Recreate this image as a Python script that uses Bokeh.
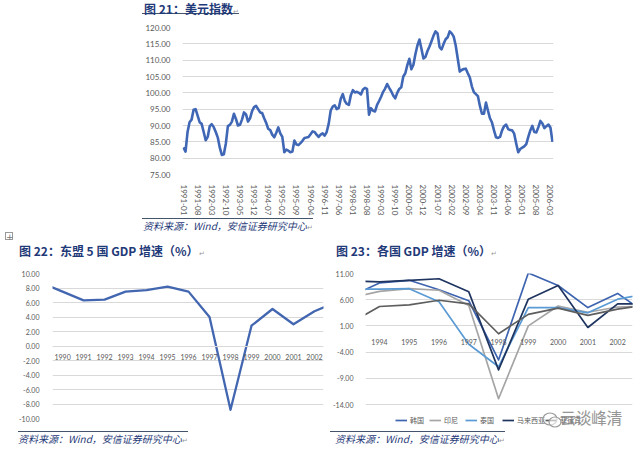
import pandas as pd
from bokeh.plotting import figure
from bokeh.models import (Range1d, FixedTicker, NumeralTickFormatter, Div, Spacer,
                          Legend, LegendItem)
from bokeh.layouts import column, row
from bokeh.embed import file_html
from bokeh.resources import INLINE

# ---------------- data ----------------
# Chart 21: US dollar index, monthly from 1991-01
dxy_start = "1991-01"
dxy = [
    83.3, 82.0, 88.0, 91.0, 91.8, 94.8, 95.0, 93.0, 91.0, 90.5, 88.0, 85.5,
    86.5, 89.8, 90.4, 89.5, 88.0, 86.3, 83.2, 81.0, 81.2, 84.5, 89.8, 90.2,
    91.2, 93.6, 92.0, 90.0, 90.2, 91.8, 94.0, 93.4, 91.2, 92.2, 94.4, 95.6,
    96.0, 95.0, 94.0, 93.8, 92.2, 90.8, 89.0, 88.6, 87.2, 86.4, 87.8, 89.4,
    87.6, 86.5, 81.8, 82.6, 82.3, 81.8, 82.0, 85.4, 84.2, 84.0, 84.6, 85.3,
    86.2, 86.3, 86.5, 87.3, 88.2, 88.0, 87.2, 86.5, 87.2, 87.6, 86.9, 88.0,
    90.5, 94.6, 95.8, 96.2, 95.0, 95.4, 98.2, 99.6, 97.5, 96.6, 96.3, 99.3,
    100.8, 100.1, 100.3, 100.0, 99.5, 101.0, 101.5, 101.2, 93.3, 95.3, 94.5, 94.3,
    96.3, 97.5, 98.8, 100.3, 101.3, 102.7, 101.5, 100.5, 99.2, 98.3, 100.0, 101.2,
    101.7, 105.0, 106.0, 108.5, 110.4, 107.2, 108.5, 111.8, 114.5, 116.3, 113.5, 110.5,
    111.0, 112.8, 114.2, 115.8, 117.5, 118.8, 118.2, 114.0, 113.3, 115.0, 116.4, 117.0,
    118.8, 118.2, 117.2, 114.5, 110.5, 106.5, 107.0, 107.3, 107.4, 106.0, 104.7, 102.0,
    100.2, 99.6, 99.0, 96.0, 93.6, 93.6, 97.0, 94.5, 92.2, 90.9, 88.5, 86.4,
    86.2, 86.5, 88.5, 89.8, 90.3, 88.9, 88.6, 88.5, 87.5, 84.5, 81.8, 82.8,
    83.2, 83.6, 84.3, 86.5, 88.5, 89.9, 88.0, 87.9, 89.5, 91.4, 90.6, 89.2,
    89.8, 90.3, 89.3, 85.0,
]
dxy_label_every = 7
dxy_yticks = [75, 80, 85, 90, 95, 100, 105, 110, 115, 120]

# Chart 22: ASEAN-5 GDP growth (%)
asean_years = [1989, 1990, 1991, 1992, 1993, 1994, 1995, 1996, 1997, 1998, 1999, 2000, 2001, 2002, 2003]
asean_gdp = [8.7, 7.5, 6.3, 6.4, 7.5, 7.7, 8.2, 7.5, 4.0, -8.8, 2.8, 5.1, 3.0, 4.8, 6.0]
asean_xlabels = [1990, 1991, 1992, 1993, 1994, 1995, 1996, 1997, 1998, 1999, 2000, 2001, 2002]
asean_yticks = [-10, -8, -6, -4, -2, 0, 2, 4, 6, 8, 10]

# Chart 23: GDP growth by country (%)
c_years = [1993, 1994, 1995, 1996, 1997, 1998, 1999, 2000, 2001, 2002, 2003]
c_xlabels = [1994, 1995, 1996, 1997, 1998, 1999, 2000, 2001, 2002]
korea = [6.6, 9.2, 9.7, 7.9, 5.8, -5.5, 11.1, 8.7, 4.5, 7.2, 3.2]
indonesia = [6.3, 7.6, 8.1, 7.8, 4.9, -12.9, 1.0, 4.8, 3.6, 4.6, 4.8]
thailand = [8.0, 8.0, 8.1, 5.6, -2.5, -6.8, 4.5, 4.5, 3.5, 6.1, 7.1]
malaysia = [9.6, 9.4, 9.7, 10.0, 7.5, -7.4, 6.1, 8.7, 0.7, 5.2, 5.2]
philippines = [1.5, 4.7, 5.0, 5.9, 5.2, -0.5, 3.2, 4.4, 3.0, 4.2, 5.0]
c_names = ["韩国", "印尼", "泰国", "马来西亚", "菲律宾"]
c_yticks = [-14, -9, -4, 1, 6, 11]

# ---------------- styles ----------------
GRID = "#D9D9D9"
TICK = "#595959"
NUMFONT = "Lato"
CJK = "Noto Sans CJK SC"
NAVY = "#1F3A78"
RULE = "#44546A"


def style_axes(p, size):
    for ax in p.axis:
        ax.axis_line_color = None
        ax.major_tick_line_color = None
        ax.minor_tick_line_color = None
        ax.major_label_text_font = NUMFONT
        ax.major_label_text_color = TICK
        ax.major_label_text_font_size = size
    p.xgrid.visible = False
    p.ygrid.grid_line_color = GRID
    p.outline_line_color = None


# ---------------- chart 21 ----------------
idx = list(range(len(dxy)))
months = pd.period_range(dxy_start, periods=len(dxy), freq="M").strftime("%Y-%m").tolist()
tick_idx = idx[::dxy_label_every]

f1 = figure(width=488, height=200, output_backend="svg", toolbar_location=None,
            x_range=Range1d(-0.5, len(dxy) - 0.5), y_range=Range1d(75, 120),
            min_border_left=40, min_border_right=77, min_border_top=9, min_border_bottom=39)
f1.line(idx, dxy, color="#3F67B5", line_width=2.6, line_join="round")
style_axes(f1, "8px")
f1.xaxis.ticker = FixedTicker(ticks=tick_idx)
f1.xaxis.major_label_overrides = {i: months[i] for i in tick_idx}
f1.xaxis.major_label_orientation = "vertical"
f1.xaxis.major_label_standoff = 4
f1.yaxis.ticker = FixedTicker(ticks=dxy_yticks)
f1.yaxis.formatter = NumeralTickFormatter(format="0.00")
f1.yaxis.major_label_standoff = 6

# ---------------- chart 22 ----------------
f2 = figure(width=330, height=169, output_backend="svg", toolbar_location=None,
            x_range=Range1d(1989.52, 2002.43), y_range=Range1d(-10, 10),
            min_border_left=52, min_border_right=7, min_border_top=11, min_border_bottom=13)
f2.line(asean_years, asean_gdp, color="#4266B0", line_width=2.3, line_join="round")
style_axes(f2, "7px")
f2.xaxis.fixed_location = 0
f2.xaxis.axis_line_color = GRID
f2.xaxis.ticker = FixedTicker(ticks=asean_xlabels)
f2.xaxis.major_label_standoff = 2
f2.yaxis.ticker = FixedTicker(ticks=asean_yticks)
f2.yaxis.formatter = NumeralTickFormatter(format="0.00")
f2.yaxis.major_label_standoff = 7

# ---------------- chart 23 ----------------
# frame runs below the -14 grid line so that the legend sits inside it
f3 = figure(width=310, height=169, output_backend="svg", toolbar_location=None,
            x_range=Range1d(1993.53, 2002.5), y_range=Range1d(-18.58, 11),
            min_border_left=33, min_border_right=8, min_border_top=11, min_border_bottom=3)
series = [korea, indonesia, thailand, malaysia, philippines]
colors = ["#3E64B0", "#A5A5A5", "#5B9BD5", "#1F3560", "#5E5E5E"]
legend_offsets = [30, 64, 100, 137, 180]   # horizontal placement of each legend entry (px)
for name, vals, col, off in zip(c_names, series, colors, legend_offsets):
    r = f3.line(c_years, vals, color=col, line_width=1.7, line_join="round")
    leg = Legend(items=[LegendItem(label=name, renderers=[r])], location=(off, 3),
                 label_text_font=CJK, label_text_font_size="7px", label_text_color=TICK,
                 glyph_width=12, glyph_height=10, label_height=10, label_standoff=3,
                 padding=0, margin=0, border_line_color=None, background_fill_alpha=0)
    f3.add_layout(leg)
style_axes(f3, "7px")
f3.xaxis.fixed_location = 0
f3.xaxis.ticker = FixedTicker(ticks=c_xlabels)
f3.xaxis.major_label_standoff = 2
f3.yaxis.ticker = FixedTicker(ticks=c_yticks)
f3.yaxis.formatter = NumeralTickFormatter(format="0.00")
f3.yaxis.major_label_standoff = 6

# ---------------- titles / sources ----------------
RET = '<span style="font-weight:normal;font-style:normal;font-size:7px;color:#9a9a9a">&#8629;</span>'
TSTYLE = f"font-family:'{CJK}';font-weight:bold;font-size:12px;line-height:14px;color:{NAVY};white-space:nowrap;"
SSTYLE = f"font-family:'{CJK}';font-style:italic;font-size:10px;line-height:14px;color:{NAVY};white-space:nowrap;"

t1 = Div(width=488, height=18, margin=0, styles={"overflow": "visible"},
         text=f'<div style="height:14px;padding-top:2px;border-bottom:1.5px solid {RULE};{TSTYLE}padding-left:2px">图 21：美元指数{RET}</div>')
s1 = Div(width=488, height=18, margin=0, styles={"overflow": "visible"},
         text=f'<div style="border-top:1.5px solid {RULE};height:16px;{SSTYLE}padding-left:1px">资料来源：Wind，安信证券研究中心{RET}</div>')

t2 = Div(width=330, height=26, margin=0, styles={"overflow": "visible"},
         text=(f'<div style="position:relative;margin-left:18px;height:24px;border-bottom:1.5px solid {RULE};">'
               '<div style="position:absolute;left:-13px;top:-4px;width:8px;height:8px;border:1px solid #999;'
               'font-size:9px;line-height:8px;text-align:center;color:#777;font-family:DejaVu Sans">+</div>'
               f'<div style="position:absolute;left:1px;top:8px;{TSTYLE}">图 22：东盟 5 国 GDP 增速（%）{RET}</div></div>'))
s2 = Div(width=330, height=22, margin=0, styles={"overflow": "visible"},
         text=f'<div style="margin-left:18px;border-top:1.5px solid {RULE};height:14px;{SSTYLE}">资料来源：Wind，安信证券研究中心{RET}</div>')

t3 = Div(width=310, height=26, margin=0, styles={"overflow": "visible"},
         text=(f'<div style="position:relative;margin-right:5px;height:24px;border-bottom:1.5px solid {RULE};">'
               f'<div style="position:absolute;left:6px;top:8px;{TSTYLE}">图 23：各国 GDP 增速（%）{RET}</div></div>'))
s3 = Div(width=310, height=22, margin=0, styles={"overflow": "visible"},
         text=(f'<div style="position:relative;margin-right:5px;border-top:1.5px solid {RULE};height:14px;{SSTYLE}padding-left:5px">资料来源：Wind，安信证券研究中心{RET}'
               '<svg style="position:absolute;left:212px;top:-21px" width="20" height="18" viewBox="0 0 20 18">'
               '<ellipse cx="8" cy="8" rx="7" ry="6" fill="none" stroke="#9a9a9a" stroke-width="1.2"/>'
               '<ellipse cx="13" cy="11" rx="6" ry="5" fill="white" fill-opacity="0.6" stroke="#9a9a9a" stroke-width="1.2"/></svg>'
               f'<div style="position:absolute;left:230px;top:-24px;font-family:\'{CJK}\';font-style:normal;'
               'font-size:16px;line-height:18px;color:#8a8a8a;opacity:0.9;letter-spacing:-0.5px">云谈峰清</div></div>'))

layout = column(
    row(Spacer(width=142, height=236), column(t1, f1, s1)),
    row(column(t2, f2, s2), column(t3, f3, s3)),
)

open("out.html", "w").write(file_html(layout, INLINE))
